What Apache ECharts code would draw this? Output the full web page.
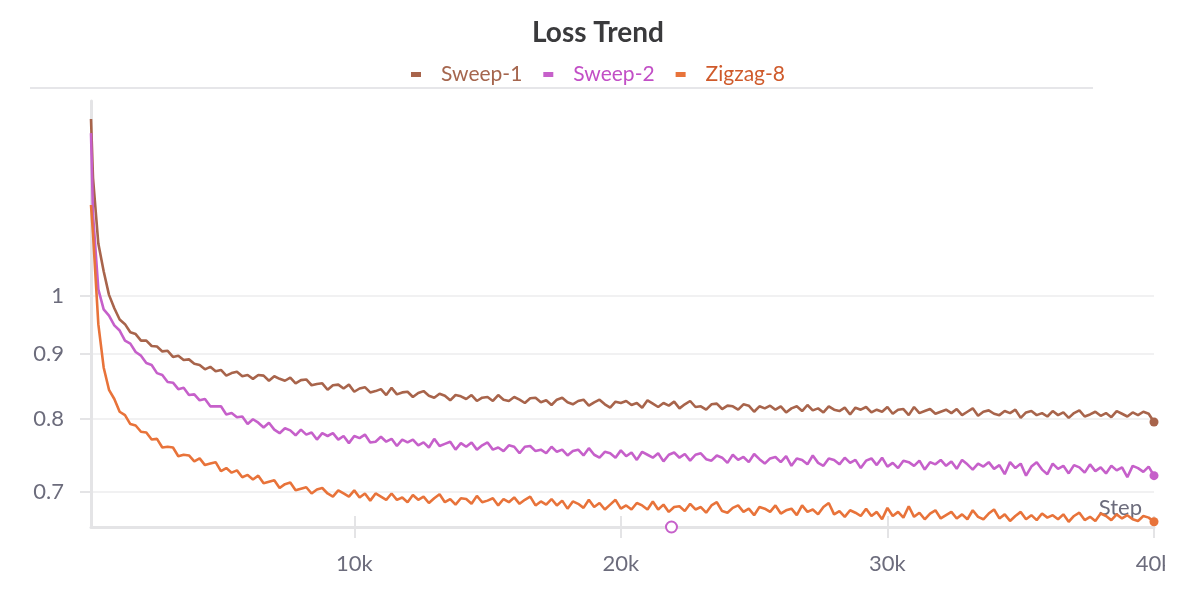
<!DOCTYPE html>
<html><head><meta charset="utf-8">
<script src="https://cdn.jsdelivr.net/npm/echarts@6/dist/echarts.min.js"></script>
<style>html,body{margin:0;padding:0;background:#fff}#c{width:1196px;height:609px}</style>
</head><body><div id="c"></div>
<script>
// x positions: first logged step, then every 200 steps up to 40k
const firstStep = 125;
const stepInterval = 200;
const xMin = 125, xMax = 40000;
const yMin = 0.6567, yMax = 1.426;
const yTickValues = [0.7, 0.8, 0.9, 1];
const seriesNames = ['Sweep-1', 'Sweep-2', 'Zigzag-8'];

const sweep1 = [1.380, 1.240, 1.100, 1.046, 1.002, 0.978, 0.958, 0.950, 0.936, 0.933, 0.922, 0.922, 0.913, 0.912, 0.904, 0.905, 0.895, 0.897, 0.890, 0.891, 0.884,
0.882, 0.875, 0.879, 0.872, 0.874, 0.865, 0.869, 0.871, 0.864, 0.866, 0.860, 0.866,
0.865, 0.857, 0.864, 0.860, 0.857, 0.862, 0.853, 0.858,
0.859, 0.850, 0.852, 0.853, 0.843, 0.850, 0.851, 0.845, 0.851, 0.840,
0.845, 0.847, 0.839, 0.841, 0.844, 0.835, 0.846, 0.836, 0.839, 0.840,
0.832, 0.838, 0.841, 0.834, 0.831, 0.837, 0.834, 0.827, 0.835, 0.833,
0.829, 0.835, 0.826, 0.831, 0.832, 0.826, 0.835, 0.828, 0.826, 0.832,
0.828, 0.823, 0.830, 0.831, 0.824, 0.827, 0.820, 0.828, 0.831, 0.824,
0.821, 0.826, 0.828, 0.819, 0.824, 0.828, 0.821, 0.816, 0.825, 0.823,
0.826, 0.820, 0.823, 0.816, 0.827, 0.822, 0.817, 0.823, 0.819, 0.825,
0.815, 0.821, 0.826, 0.817, 0.818, 0.813, 0.821, 0.822, 0.814, 0.819,
0.818, 0.813, 0.821, 0.819, 0.810, 0.818, 0.815, 0.819, 0.813, 0.818,
0.809, 0.815, 0.818, 0.811, 0.820, 0.812, 0.815, 0.809, 0.818, 0.813,
0.811, 0.816, 0.806, 0.816, 0.813, 0.817, 0.809, 0.813, 0.810, 0.817,
0.807, 0.813, 0.814, 0.805, 0.817, 0.808, 0.811, 0.814, 0.807, 0.810,
0.813, 0.808, 0.814, 0.805, 0.810, 0.815, 0.804, 0.810, 0.812, 0.807,
0.805, 0.811, 0.808, 0.813, 0.801, 0.809, 0.811, 0.805, 0.808, 0.803,
0.811, 0.805, 0.809, 0.801, 0.808, 0.812, 0.803, 0.806, 0.810, 0.804,
0.808, 0.802, 0.811, 0.807, 0.803, 0.809, 0.805, 0.810, 0.807, 0.795];

const sweep2 = [1.345, 1.160, 1.012, 0.976, 0.965, 0.948, 0.939, 0.922, 0.917, 0.903, 0.897, 0.885, 0.882, 0.869, 0.866, 0.855, 0.854, 0.844, 0.846, 0.835, 0.836,
0.827, 0.829, 0.818, 0.818, 0.818, 0.806, 0.808, 0.802, 0.803, 0.792,
0.799, 0.794, 0.787, 0.794, 0.784, 0.779, 0.786, 0.783, 0.776, 0.784,
0.777, 0.780, 0.770, 0.779, 0.775, 0.779, 0.770, 0.775, 0.765, 0.775,
0.772, 0.777, 0.766, 0.767, 0.774, 0.767, 0.771, 0.761, 0.770, 0.766,
0.770, 0.762, 0.766, 0.759, 0.771, 0.761, 0.764, 0.767, 0.756, 0.765,
0.760, 0.766, 0.756, 0.762, 0.766, 0.756, 0.759, 0.754, 0.762, 0.760,
0.751, 0.760, 0.761, 0.754, 0.756, 0.751, 0.760, 0.753, 0.756, 0.748,
0.754, 0.756, 0.748, 0.758, 0.749, 0.745, 0.753, 0.751, 0.745, 0.755,
0.747, 0.752, 0.742, 0.753, 0.749, 0.745, 0.751, 0.740, 0.749, 0.752,
0.745, 0.750, 0.741, 0.749, 0.751, 0.743, 0.741, 0.748, 0.745, 0.738,
0.749, 0.742, 0.746, 0.739, 0.750, 0.743, 0.737, 0.744, 0.746, 0.739,
0.747, 0.734, 0.744, 0.742, 0.736, 0.748, 0.738, 0.734, 0.744, 0.742,
0.736, 0.745, 0.738, 0.742, 0.731, 0.741, 0.744, 0.735, 0.745, 0.733,
0.738, 0.731, 0.741, 0.739, 0.734, 0.741, 0.729, 0.739, 0.736, 0.742,
0.734, 0.740, 0.730, 0.742, 0.736, 0.729, 0.737, 0.733, 0.739, 0.730,
0.735, 0.723, 0.739, 0.731, 0.737, 0.721, 0.733, 0.739, 0.729, 0.723,
0.737, 0.730, 0.734, 0.724, 0.735, 0.732, 0.725, 0.736, 0.727, 0.732,
0.724, 0.734, 0.728, 0.732, 0.719, 0.734, 0.731, 0.726, 0.733, 0.721];

const zigzag8 = [1.180, 1.120, 0.950, 0.878, 0.843, 0.829, 0.810, 0.805, 0.792, 0.790, 0.781,
0.780, 0.770, 0.771, 0.759, 0.760, 0.759, 0.747, 0.749, 0.748, 0.740,
0.744, 0.735, 0.737, 0.739, 0.727, 0.731, 0.725, 0.728, 0.719, 0.722,
0.716, 0.721, 0.711, 0.713, 0.715, 0.705, 0.710, 0.712, 0.702, 0.704,
0.706, 0.698, 0.703, 0.705, 0.698, 0.694, 0.702, 0.698, 0.694, 0.702,
0.693, 0.698, 0.689, 0.698, 0.694, 0.690, 0.698, 0.690, 0.693, 0.687,
0.696, 0.690, 0.694, 0.686, 0.692, 0.697, 0.687, 0.691, 0.684, 0.692,
0.691, 0.685, 0.695, 0.687, 0.689, 0.692, 0.683, 0.691, 0.687, 0.693,
0.685, 0.690, 0.694, 0.683, 0.688, 0.684, 0.691, 0.683, 0.689, 0.679,
0.688, 0.685, 0.680, 0.690, 0.681, 0.686, 0.678, 0.684, 0.690, 0.679,
0.683, 0.678, 0.686, 0.683, 0.678, 0.688, 0.678, 0.684, 0.675, 0.681,
0.682, 0.676, 0.685, 0.678, 0.681, 0.674, 0.683, 0.687, 0.676, 0.674,
0.680, 0.683, 0.675, 0.679, 0.671, 0.681, 0.679, 0.675, 0.683, 0.673,
0.677, 0.679, 0.671, 0.683, 0.675, 0.678, 0.672, 0.681, 0.686, 0.672,
0.676, 0.669, 0.677, 0.674, 0.670, 0.679, 0.670, 0.675, 0.666, 0.680,
0.670, 0.675, 0.668, 0.682, 0.669, 0.674, 0.666, 0.673, 0.677, 0.667,
0.671, 0.675, 0.667, 0.672, 0.666, 0.677, 0.669, 0.666, 0.673, 0.678,
0.667, 0.672, 0.664, 0.670, 0.675, 0.666, 0.671, 0.665, 0.673, 0.668,
0.671, 0.666, 0.672, 0.663, 0.670, 0.674, 0.665, 0.669, 0.664, 0.673,
0.670, 0.665, 0.672, 0.667, 0.671, 0.666, 0.664, 0.670, 0.668, 0.663];

// isolated Sweep-2 marker near the bottom of the plot: [step, value]
const sweep2Outlier = [21900, 0.6567];

const lineColors = ['#a8644b', '#c660ca', '#e8733a'];
const legendTextColors = ['#a5664e', '#c24fc6', '#cf5a2b'];
const FONT = 'Lato, "Source Sans Pro", sans-serif';

function toPairs(vals) {
  return vals.map((v, i) => [i === 0 ? firstStep : i * stepInterval, v]);
}
const allVals = [sweep1, sweep2, zigzag8];

const chart = echarts.init(document.getElementById('c'), null, {renderer: 'canvas'});

const series = allVals.map((vals, k) => {
  const last = vals.length - 1;
  const mpData = [{
    coord: [last * stepInterval, vals[last]], symbol: 'circle', symbolSize: 9,
    itemStyle: {color: lineColors[k]}
  }];
  if (k === 1) {
    mpData.push({
      coord: sweep2Outlier, symbol: 'circle', symbolSize: 11,
      itemStyle: {color: '#fff', borderColor: lineColors[1], borderWidth: 2}
    });
  }
  return {
    name: seriesNames[k], type: 'line', data: toPairs(vals),
    showSymbol: false, symbol: 'none',
    lineStyle: {width: 2.6, color: lineColors[k]},
    itemStyle: {color: lineColors[k]},
    markPoint: {silent: true, label: {show: false}, data: mpData, animation: false},
    z: 3 + k
  };
});

const axisGray = '#e4e4e6';
const labelGray = '#6c6c7c';

chart.setOption({
  animation: false,
  textStyle: {fontFamily: FONT},
  title: {
    text: 'Loss Trend', left: 'center', top: 14,
    textStyle: {fontSize: 28, fontWeight: 'bold', color: '#3a3a3c', fontFamily: FONT}
  },
  legend: {
    top: 59, left: 'center', itemGap: 21, itemWidth: 10, itemHeight: 5, icon: 'rect',
    data: seriesNames.map((n, k) => ({name: n, textStyle: {color: legendTextColors[k]}})),
    textStyle: {fontSize: 21, fontFamily: FONT, padding: [0, 0, 0, 15]}
  },
  grid: {left: 91, right: 42, top: 101, bottom: 82, containLabel: false},
  xAxis: [{
    type: 'value', min: xMin, max: xMax,
    name: 'Step', nameLocation: 'end', nameGap: -12,
    nameTextStyle: {fontSize: 22, color: labelGray, align: 'right', verticalAlign: 'bottom', padding: [0, 0, 8, 0], fontFamily: FONT},
    axisLine: {show: true, lineStyle: {color: axisGray, width: 3}},
    axisTick: {show: true, inside: false, length: 11, lineStyle: {color: axisGray, width: 2}},
    axisLabel: {showMinLabel: false, margin: 26, fontSize: 22, color: labelGray, fontFamily: FONT,
      formatter: v => (v / 1000) + 'k'},
    splitLine: {show: false}
  }, {
    type: 'value', min: xMin, max: xMax, position: 'bottom', gridIndex: 0,
    axisLine: {show: false},
    axisTick: {show: true, inside: true, length: 11, lineStyle: {color: axisGray, width: 2}},
    axisLabel: {show: false}, splitLine: {show: false}
  }],
  yAxis: {
    type: 'log', logBase: 10, min: yMin, max: yMax,
    axisLine: {show: true, lineStyle: {color: axisGray, width: 3}},
    axisTick: {show: true, inside: false, length: 11, customValues: yTickValues, lineStyle: {color: axisGray, width: 2}},
    axisLabel: {customValues: yTickValues, margin: 27, fontSize: 22, color: labelGray, fontFamily: FONT,
      formatter: v => String(Math.round(v * 10) / 10)},
    splitLine: {show: true, lineStyle: {color: '#ececee', width: 1.5}},
    minorTick: {show: false}, minorSplitLine: {show: false}
  },
  graphic: [
    {type: 'line', shape: {x1: 30, y1: 88, x2: 1093, y2: 88}, style: {stroke: '#e6e6e9', lineWidth: 2}, silent: true},
    {type: 'rect', shape: {x: 1165, y: 540, width: 40, height: 60}, style: {fill: '#fff'}, z: 100, silent: true}
  ],
  series: series
});
</script></body></html>
